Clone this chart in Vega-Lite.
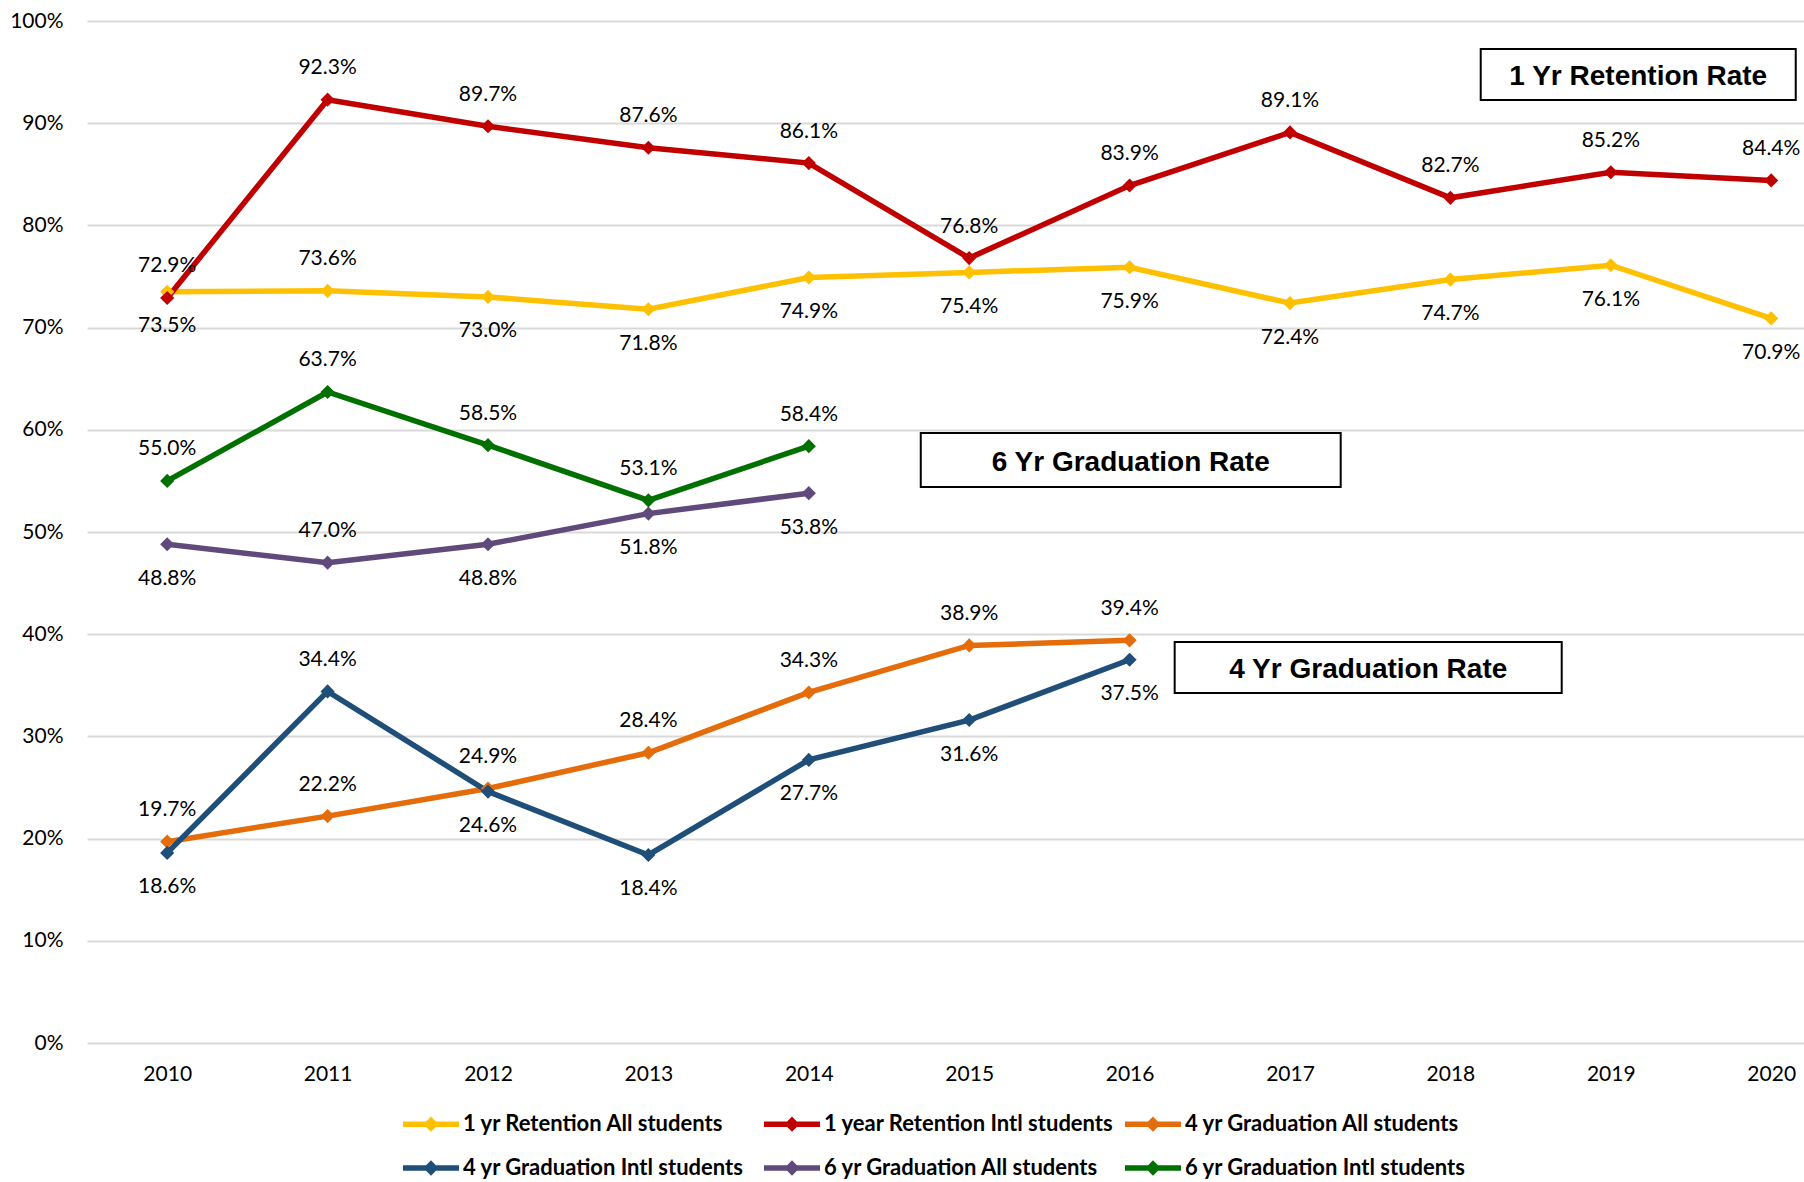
{
  "$schema": "https://vega.github.io/schema/vega-lite/v6.json",
  "width": 1717,
  "height": 1022,
  "autosize": {"type": "none"},
  "padding": {"left": 87, "top": 21, "right": 0, "bottom": 139},
  "background": "white",
  "config": {
    "view": {"stroke": null},
    "axis": {"labelFont": "Lato", "labelFontSize": 21, "labelColor": "#000000", "domain": false, "ticks": false}
  },
  "datasets": {
    "series": [
      {"series": "1 yr Retention All students", "year": 2010, "value": 0.735},
      {"series": "1 yr Retention All students", "year": 2011, "value": 0.736},
      {"series": "1 yr Retention All students", "year": 2012, "value": 0.730},
      {"series": "1 yr Retention All students", "year": 2013, "value": 0.718},
      {"series": "1 yr Retention All students", "year": 2014, "value": 0.749},
      {"series": "1 yr Retention All students", "year": 2015, "value": 0.754},
      {"series": "1 yr Retention All students", "year": 2016, "value": 0.759},
      {"series": "1 yr Retention All students", "year": 2017, "value": 0.724},
      {"series": "1 yr Retention All students", "year": 2018, "value": 0.747},
      {"series": "1 yr Retention All students", "year": 2019, "value": 0.761},
      {"series": "1 yr Retention All students", "year": 2020, "value": 0.709},
      {"series": "1 year Retention Intl students", "year": 2010, "value": 0.729},
      {"series": "1 year Retention Intl students", "year": 2011, "value": 0.923},
      {"series": "1 year Retention Intl students", "year": 2012, "value": 0.897},
      {"series": "1 year Retention Intl students", "year": 2013, "value": 0.876},
      {"series": "1 year Retention Intl students", "year": 2014, "value": 0.861},
      {"series": "1 year Retention Intl students", "year": 2015, "value": 0.768},
      {"series": "1 year Retention Intl students", "year": 2016, "value": 0.839},
      {"series": "1 year Retention Intl students", "year": 2017, "value": 0.891},
      {"series": "1 year Retention Intl students", "year": 2018, "value": 0.827},
      {"series": "1 year Retention Intl students", "year": 2019, "value": 0.852},
      {"series": "1 year Retention Intl students", "year": 2020, "value": 0.844},
      {"series": "4 yr Graduation All students", "year": 2010, "value": 0.197},
      {"series": "4 yr Graduation All students", "year": 2011, "value": 0.222},
      {"series": "4 yr Graduation All students", "year": 2012, "value": 0.249},
      {"series": "4 yr Graduation All students", "year": 2013, "value": 0.284},
      {"series": "4 yr Graduation All students", "year": 2014, "value": 0.343},
      {"series": "4 yr Graduation All students", "year": 2015, "value": 0.389},
      {"series": "4 yr Graduation All students", "year": 2016, "value": 0.394},
      {"series": "4 yr Graduation Intl students", "year": 2010, "value": 0.186},
      {"series": "4 yr Graduation Intl students", "year": 2011, "value": 0.344},
      {"series": "4 yr Graduation Intl students", "year": 2012, "value": 0.246},
      {"series": "4 yr Graduation Intl students", "year": 2013, "value": 0.184},
      {"series": "4 yr Graduation Intl students", "year": 2014, "value": 0.277},
      {"series": "4 yr Graduation Intl students", "year": 2015, "value": 0.316},
      {"series": "4 yr Graduation Intl students", "year": 2016, "value": 0.375},
      {"series": "6 yr Graduation All students", "year": 2010, "value": 0.488},
      {"series": "6 yr Graduation All students", "year": 2011, "value": 0.470},
      {"series": "6 yr Graduation All students", "year": 2012, "value": 0.488},
      {"series": "6 yr Graduation All students", "year": 2013, "value": 0.518},
      {"series": "6 yr Graduation All students", "year": 2014, "value": 0.538},
      {"series": "6 yr Graduation Intl students", "year": 2010, "value": 0.550},
      {"series": "6 yr Graduation Intl students", "year": 2011, "value": 0.637},
      {"series": "6 yr Graduation Intl students", "year": 2012, "value": 0.585},
      {"series": "6 yr Graduation Intl students", "year": 2013, "value": 0.531},
      {"series": "6 yr Graduation Intl students", "year": 2014, "value": 0.584}
    ],
    "boxes": [
      {"label": "1 Yr Retention Rate", "x1": 2018.189, "x2": 2020.153, "y1": 0.9227, "y2": 0.9726, "cx": 2019.171, "cy": 0.9477},
      {"label": "6 Yr Graduation Rate", "x1": 2014.698, "x2": 2017.316, "y1": 0.5440, "y2": 0.5969, "cx": 2016.007, "cy": 0.5705},
      {"label": "4 Yr Graduation Rate", "x1": 2016.281, "x2": 2018.694, "y1": 0.3425, "y2": 0.3924, "cx": 2017.488, "cy": 0.3675}
    ]
  },
  "layer": [
    {
      "data": {"name": "series"},
      "mark": {"type": "line", "strokeWidth": 5.5, "point": {"shape": "diamond", "filled": true, "size": 200}},
      "encoding": {
        "x": {"field": "year", "type": "quantitative", "title": null,
          "scale": {"domain": [2009.5, 2020.2045], "nice": false, "zero": false},
          "axis": {"values": [2010, 2011, 2012, 2013, 2014, 2015, 2016, 2017, 2018, 2019, 2020], "format": "d", "grid": false, "labelPadding": 20, "labelFlush": false}},
        "y": {"field": "value", "type": "quantitative", "title": null,
          "scale": {"domain": [0, 1], "nice": false},
          "axis": {"values": [0, 0.1, 0.2, 0.3, 0.4, 0.5, 0.6, 0.7, 0.8, 0.9, 1], "format": ".0%", "grid": true, "gridColor": "#d9d9d9", "gridWidth": 2, "labelPadding": 24}},
        "color": {"field": "series", "type": "nominal",
          "scale": {
            "domain": ["1 yr Retention All students", "1 year Retention Intl students", "4 yr Graduation All students", "4 yr Graduation Intl students", "6 yr Graduation All students", "6 yr Graduation Intl students"],
            "range": ["#FFC000", "#C00000", "#E46C0A", "#1F4E79", "#604A7B", "#007000"]
          },
          "legend": {
            "orient": "none", "legendX": 350, "legendY": 1092, "direction": "horizontal", "columns": 3,
            "gridAlign": "all", "columnPadding": 0, "rowPadding": 14, "title": null,
            "symbolType": "M-9,0L2.2,0M-3.4,-0.75L-2.65,0L-3.4,0.75L-4.15,0Z", "symbolSize": 100, "symbolStrokeWidth": 5.5,
            "labelFont": "Lato", "labelFontWeight": "bold", "labelFontSize": 22, "labelColor": "#000000", "labelOffset": 4, "labelLimit": 400,
            "encode": {"symbols": {"update": {"fill": {"scale": "color", "field": "value"}, "stroke": {"scale": "color", "field": "value"}, "strokeWidth": {"value": 5.5}}}}
          }
        }
      }
    },
    {
      "data": {"name": "series"},
      "transform": [{"filter": "!((datum.series === '1 yr Retention All students' || datum.series === '6 yr Graduation All students' || datum.series === '4 yr Graduation Intl students') && datum.year !== 2011)"}],
      "mark": {"type": "text", "dy": -31.5, "font": "Lato", "fontSize": 21, "color": "#000000", "baseline": "middle", "align": "center"},
      "encoding": {
        "x": {"field": "year", "type": "quantitative", "title": null},
        "y": {"field": "value", "type": "quantitative", "title": null},
        "text": {"field": "value", "type": "quantitative", "format": ".1%"}
      }
    },
    {
      "data": {"name": "series"},
      "transform": [{"filter": "(datum.series === '1 yr Retention All students' || datum.series === '6 yr Graduation All students' || datum.series === '4 yr Graduation Intl students') && datum.year !== 2011"}],
      "mark": {"type": "text", "dy": 34.5, "font": "Lato", "fontSize": 21, "color": "#000000", "baseline": "middle", "align": "center"},
      "encoding": {
        "x": {"field": "year", "type": "quantitative", "title": null},
        "y": {"field": "value", "type": "quantitative", "title": null},
        "text": {"field": "value", "type": "quantitative", "format": ".1%"}
      }
    },
    {
      "data": {"name": "boxes"},
      "mark": {"type": "rect", "fill": "white", "stroke": "#000000", "strokeWidth": 2},
      "encoding": {
        "x": {"field": "x1", "type": "quantitative", "title": null},
        "x2": {"field": "x2"},
        "y": {"field": "y1", "type": "quantitative", "title": null},
        "y2": {"field": "y2"}
      }
    },
    {
      "data": {"name": "boxes"},
      "mark": {"type": "text", "font": "Liberation Sans", "fontWeight": "bold", "fontSize": 28, "color": "#000000", "baseline": "middle", "align": "center", "dy": 3},
      "encoding": {
        "x": {"field": "cx", "type": "quantitative", "title": null},
        "y": {"field": "cy", "type": "quantitative", "title": null},
        "text": {"field": "label", "type": "nominal"}
      }
    }
  ]
}
